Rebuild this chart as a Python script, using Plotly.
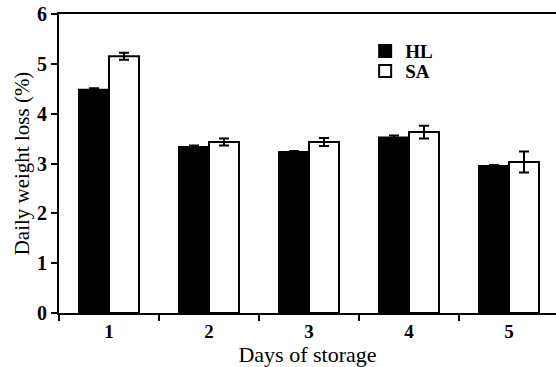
import plotly.graph_objects as go

days = [1, 2, 3, 4, 5]
day_labels = ["1", "2", "3", "4", "5"]
hl_values = [4.48, 3.33, 3.23, 3.52, 2.95]
hl_errors = [0.03, 0.03, 0.02, 0.04, 0.02]
sa_values = [5.15, 3.43, 3.43, 3.63, 3.03]
sa_errors = [0.07, 0.07, 0.08, 0.13, 0.21]
y_ticks = [0, 1, 2, 3, 4, 5, 6]
boundaries = [0.5, 1.5, 2.5, 3.5, 4.5, 5.5]

SERIF = "Liberation Serif"

fig = go.Figure()
fig.add_trace(go.Bar(
    x=days, y=hl_values, name="HL", legend="legend",
    marker=dict(color="black", line=dict(color="black", width=2)),
    error_y=dict(type="data", array=hl_errors, visible=True, color="black", thickness=2, width=5),
))
fig.add_trace(go.Bar(
    x=days, y=sa_values, name="SA", legend="legend2",
    marker=dict(color="white", line=dict(color="black", width=2)),
    error_y=dict(type="data", array=sa_errors, visible=True, color="black", thickness=2, width=5),
))

legend_style = dict(
    xanchor="left", yanchor="middle",
    font=dict(family=SERIF, size=19, color="black", weight="bold"),
    bgcolor="rgba(0,0,0,0)", itemwidth=30, tracegroupgap=0,
)

fig.update_layout(
    width=556, height=367,
    margin=dict(l=59, r=0, t=14, b=54),
    paper_bgcolor="white", plot_bgcolor="white",
    barmode="group", bargap=0.4, bargroupgap=0,
    showlegend=True,
    legend=dict(x=0.616, y=0.876, **legend_style),
    legend2=dict(x=0.616, y=0.809, **legend_style),
    font=dict(family=SERIF, color="black"),
)
fig.update_xaxes(
    range=[0.5, 5.47], tickmode="array", tickvals=days, ticktext=day_labels,
    ticks="", showgrid=False, zeroline=False, automargin=False,
    showline=True, linecolor="black", linewidth=2, mirror=True,
    tickfont=dict(family=SERIF, size=19, color="black", weight="bold"),
    title=dict(text="Days of storage", font=dict(family=SERIF, size=22, color="black"), standoff=0),
    minor=dict(tickmode="array", tickvals=boundaries, ticks="outside", ticklen=6, tickwidth=2, tickcolor="black", showgrid=False),
)
fig.update_yaxes(
    range=[0, 6], tickmode="array", tickvals=y_ticks,
    ticks="outside", ticklen=6, tickwidth=2, tickcolor="black",
    showgrid=False, zeroline=False, automargin=False, ticklabeloverflow="allow",
    showline=True, linecolor="black", linewidth=2,
    tickfont=dict(family=SERIF, size=20, color="black", weight="bold"),
    title=dict(text="Daily weight loss (%)", font=dict(family=SERIF, size=21, color="black"), standoff=2),
)

# remove the default 8px page margin so the figure fills the window exactly
fig.write_html("out.html", config={"displayModeBar": False},
               post_script="document.body.style.margin='0';")
